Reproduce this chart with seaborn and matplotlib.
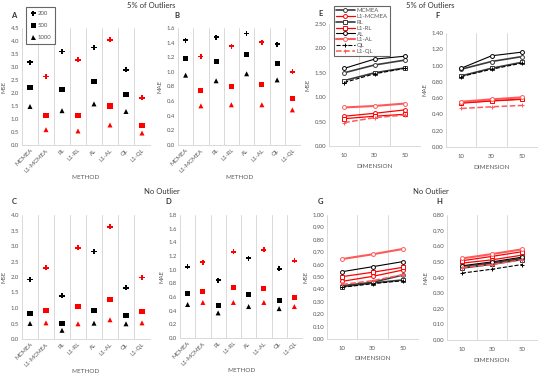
import numpy as np
import pandas as pd
import matplotlib
matplotlib.use("Agg")
import matplotlib.pyplot as plt
from matplotlib.lines import Line2D
import seaborn as sns

sns.set_style("white")
plt.rcParams['font.family'] = ['Lato', 'DejaVu Sans']

# ---------------- data ----------------
methods = ['MCMEA', 'L1-MCMEA', 'RL', 'L1-RL', 'AL', 'L1-AL', 'QL', 'L1-QL']
sizes = ['200', '500', '1000']
dims = ['10', '30', '50']

# 5% of outliers, by sample size
mse5_200 = [3.19, 2.63, 3.59, 3.28, 3.75, 4.05, 2.89, 1.82]
mse5_500 = [2.22, 1.12, 2.13, 1.12, 2.43, 1.50, 1.95, 0.75]
mse5_1000 = [1.48, 0.59, 1.32, 0.54, 1.58, 0.77, 1.29, 0.46]
mae5_200 = [1.435, 1.21, 1.476, 1.35, 1.527, 1.408, 1.38, 1.00]
mae5_500 = [1.18, 0.745, 1.147, 0.795, 1.239, 0.827, 1.12, 0.63]
mae5_1000 = [0.955, 0.535, 0.878, 0.55, 0.974, 0.55, 0.89, 0.48]

# no outlier, by sample size
mse0_200 = [1.92, 2.30, 1.39, 2.94, 2.82, 3.62, 1.65, 1.98]
mse0_500 = [0.81, 0.93, 0.50, 1.04, 0.93, 1.26, 0.75, 0.88]
mse0_1000 = [0.50, 0.52, 0.28, 0.49, 0.51, 0.62, 0.49, 0.52]
mae0_200 = [1.04, 1.11, 0.846, 1.26, 1.17, 1.29, 1.01, 1.13]
mae0_500 = [0.65, 0.675, 0.475, 0.74, 0.636, 0.73, 0.55, 0.59]
mae0_1000 = [0.49, 0.52, 0.367, 0.52, 0.46, 0.52, 0.43, 0.46]

# by dimension (10, 30, 50)
mse5_dim = {'MCMEA': [1.50, 1.66, 1.76], 'L1-MCMEA': [0.61, 0.67, 0.74],
            'RL': [1.34, 1.50, 1.60], 'L1-RL': [0.56, 0.61, 0.65],
            'AL': [1.59, 1.78, 1.84], 'L1-AL': [0.79, 0.82, 0.87],
            'QL': [1.30, 1.48, 1.59], 'L1-QL': [0.48, 0.58, 0.635]}
mae5_dim = {'MCMEA': [0.955, 1.05, 1.11], 'L1-MCMEA': [0.543, 0.568, 0.589],
            'RL': [0.873, 0.967, 1.04], 'L1-RL': [0.538, 0.565, 0.585],
            'AL': [0.967, 1.12, 1.165], 'L1-AL': [0.556, 0.585, 0.61],
            'QL': [0.865, 0.955, 1.03], 'L1-QL': [0.473, 0.494, 0.51]}
mse0_dim = {'MCMEA': [0.43, 0.457, 0.516], 'L1-MCMEA': [0.465, 0.505, 0.556],
            'RL': [0.422, 0.452, 0.476], 'L1-RL': [0.503, 0.538, 0.578],
            'AL': [0.543, 0.583, 0.624], 'L1-AL': [0.645, 0.683, 0.726],
            'QL': [0.417, 0.446, 0.47], 'L1-QL': [0.44, 0.47, 0.519]}
mae0_dim = {'MCMEA': [0.468, 0.492, 0.522], 'L1-MCMEA': [0.492, 0.513, 0.543],
            'RL': [0.46, 0.485, 0.515], 'L1-RL': [0.507, 0.535, 0.565],
            'AL': [0.475, 0.5, 0.53], 'L1-AL': [0.522, 0.55, 0.58],
            'QL': [0.428, 0.453, 0.483], 'L1-QL': [0.464, 0.483, 0.513]}

# line styles: color, linestyle, marker, linewidth
styles = {'MCMEA': ('#3a3a3a', '-', 'o', 1.2),
          'L1-MCMEA': ('#ff0000', '-', 'o', 0.9),
          'RL': ('#3a3a3a', '-', 's', 1.2),
          'L1-RL': ('#ff0000', '-', 's', 0.9),
          'AL': ('#000000', '-', 'o', 0.8),
          'L1-AL': ('#ff5a5a', '-', 'o', 1.5),
          'QL': ('#000000', '--', '+', 0.8),
          'L1-QL': ('#ff5a5a', '--', '+', 1.1)}

TXT = '#595959'
GRID = '#d9d9d9'
FS = 4.3

fig = plt.figure(figsize=(5.4, 3.73), dpi=100)


def box(l, t, r, b):
    return fig.add_axes([l / 540, 1 - b / 373, (r - l) / 540, (b - t) / 373])


def common(ax, ymax, step, fmt, ylabel, xlabel, ncat):
    ax.set_ylim(0, ymax)
    ax.set_yticks(np.arange(0, ymax + step / 2, step))
    ax.set_yticklabels([fmt.format(v) for v in np.arange(0, ymax + step / 2, step)])
    ax.set_xlim(-0.5, ncat - 0.5)
    ax.set_xticks(np.arange(-0.5, ncat, 1), minor=True)
    ax.grid(False)
    ax.grid(which='minor', axis='x', color=GRID, lw=0.7)
    ax.tick_params(which='both', length=0, labelsize=FS, labelcolor=TXT, pad=2)
    for s in ['left', 'right', 'top']:
        ax.spines[s].set_visible(False)
    ax.spines['bottom'].set_color(GRID)
    ax.spines['bottom'].set_linewidth(0.7)
    ax.set_ylabel(ylabel, fontsize=FS, color=TXT, labelpad=3)
    ax.set_xlabel(xlabel, fontsize=FS + 0.3, color=TXT)


def scatter_panel(ax, v200, v500, v1000, ymax, step, ylabel):
    df = pd.DataFrame({'method': methods * 3,
                       'value': v200 + v500 + v1000,
                       'n': ['200'] * 8 + ['500'] * 8 + ['1000'] * 8})
    df['grp'] = np.where(df['method'].str.startswith('L1'), 'L1', 'base')
    sns.scatterplot(data=df, x='method', y='value', hue='grp', style='n',
                    palette={'base': 'black', 'L1': '#ff0000'},
                    markers={'200': 'P', '500': 's', '1000': '^'},
                    s=13, linewidth=0, legend=False, ax=ax)
    common(ax, ymax, step, '{:.1f}', ylabel, 'METHOD', 8)
    ax.set_xticks(range(8))
    ax.set_xticklabels(methods, rotation=45, ha='right', rotation_mode='anchor')
    ax.xaxis.labelpad = 1


def line_panel(ax, data, ymax, step, ylabel):
    for m in methods:
        c, ls, mk, lw = styles[m]
        sns.lineplot(x=dims, y=data[m], color=c, linestyle=ls, marker=mk, lw=lw,
                     markersize=2.8, markerfacecolor='white', markeredgecolor=c,
                     markeredgewidth=0.7, label=m, legend=False, ax=ax)
    common(ax, ymax, step, '{:.2f}', ylabel, 'DIMENSION', 3)
    ax.xaxis.labelpad = 4
    ax.tick_params(axis='x', pad=5)


axA = box(22, 28, 150, 145)
scatter_panel(axA, mse5_200, mse5_500, mse5_1000, 4.5, 0.5, 'MSE')
axB = box(178, 28, 300, 145)
scatter_panel(axB, mae5_200, mae5_500, mae5_1000, 1.6, 0.2, 'MAE')
axC = box(22, 215, 150, 339)
scatter_panel(axC, mse0_200, mse0_500, mse0_1000, 4.0, 0.5, 'MSE')
axD = box(180, 215, 302, 338)
scatter_panel(axD, mae0_200, mae0_500, mae0_1000, 1.8, 0.2, 'MAE')

axE = box(329, 24, 420, 146)
line_panel(axE, mse5_dim, 2.5, 0.5, 'MSE')
axF = box(446, 33, 537, 147)
line_panel(axF, mae5_dim, 1.4, 0.2, 'MAE')
axG = box(327, 215, 418, 339)
line_panel(axG, mse0_dim, 1.0, 0.1, 'MSE')
axH = box(447, 215, 537, 340)
line_panel(axH, mae0_dim, 0.8, 0.1, 'MAE')

# sample-size legend (panel A)
size_handles = [Line2D([], [], ls='none', marker=mk, color='black', markersize=3.6, mew=0)
                for mk in ['P', 's', '^']]
leg1 = fig.legend(size_handles, sizes, loc='upper left', bbox_to_anchor=(23 / 540, 1 - 4 / 373),
                  fontsize=FS, frameon=True, fancybox=False, edgecolor='#404040',
                  handlelength=1.0, handletextpad=0.3, labelspacing=1.2,
                  borderpad=0.6, labelcolor=TXT)
leg1.get_frame().set_linewidth(0.8)

# method legend (panel E)
h, l = axE.get_legend_handles_labels()
leg2 = fig.legend(h, l, loc='upper left', bbox_to_anchor=(331 / 540, 1 - 3 / 373),
                  fontsize=FS, frameon=True, fancybox=False, edgecolor='#404040',
                  handlelength=3.2, handletextpad=0.3, labelspacing=0.12,
                  borderpad=0.3, labelcolor=TXT)
leg2.get_frame().set_linewidth(0.8)

# titles and panel letters
for x, y, t in [(151, 6, '5% of Outliers'), (430, 6, '5% of Outliers'),
                (162, 192, 'No Outlier'), (431, 191, 'No Outlier')]:
    fig.text(x / 540, 1 - y / 373, t, ha='center', va='center', fontsize=5.5, color='#333333')
for x, y, t in [(14, 15, 'A'), (177, 15, 'B'), (321, 14, 'E'), (438, 15, 'F'),
                (14, 201, 'C'), (168, 201, 'D'), (321, 202, 'G'), (439, 202, 'H')]:
    fig.text(x / 540, 1 - y / 373, t, ha='center', va='center', fontsize=5.5,
             fontweight='bold', color='#333333')

fig.savefig('out.png', dpi=100)
